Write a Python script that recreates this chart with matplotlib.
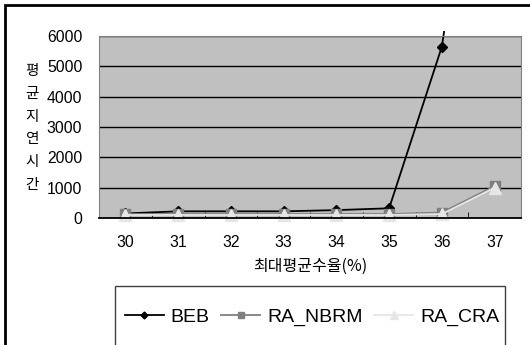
import matplotlib.pyplot as plt
from matplotlib.patches import Rectangle
from matplotlib.transforms import Bbox, TransformedBbox

# 데이터
rates = [30, 31, 32, 33, 34, 35, 36, 37]
beb = [150, 220, 220, 220, 260, 320, 5650, 17500]
ra_nbrm = [130, 130, 130, 130, 130, 130, 180, 1050]
ra_cra = [100, 100, 100, 100, 100, 100, 130, 1000]
yticks = [0, 1000, 2000, 3000, 4000, 5000, 6000]
ylabel_chars = ['평', '균', '지', '연', '시', '간']

W, H = 530, 345
fig = plt.figure(figsize=(W / 100, H / 100), dpi=100)
latin = 'Liberation Sans'
kr = ['Noto Sans CJK KR', 'DejaVu Sans']

# 플롯 영역 (픽셀 기준)
x0, x1, y0, y1 = 99, 521, 36, 218
ax = fig.add_axes([x0 / W, 1 - y1 / H, (x1 - x0) / W, (y1 - y0) / H])
ax.set_facecolor('#c0c0c0')

x = list(range(len(rates)))
l1, = ax.plot(x, beb, color='black', lw=1.3, marker='D', ms=5, label='BEB', zorder=2)
l2, = ax.plot(x, ra_nbrm, color='#7f7f7f', lw=1.3, marker='s', ms=7, label='RA_NBRM',
              clip_on=False, zorder=3)
l3, = ax.plot(x, ra_cra, color='#e6e6e6', lw=1.3, marker='^', ms=9, label='RA_CRA',
              clip_on=False, zorder=4)
# BEB 선이 위로 조금 넘어가게
l1.set_clip_box(TransformedBbox(Bbox([[0, 0], [1, 1.03]]), ax.transAxes))

ax.set_xlim(-0.5, len(rates) - 0.5)
ax.set_ylim(0, 6000)
ax.set_yticks(yticks)
ax.set_yticklabels([str(v) for v in yticks], fontsize=11.3, family=latin)
ax.yaxis.grid(True, color='black', lw=1)
ax.set_axisbelow(True)
ax.tick_params(axis='y', length=0, pad=12)

ax.set_xticks(x)
ax.set_xticklabels([str(r) for r in rates], fontsize=11.3, family=latin)
ax.tick_params(axis='x', length=0, pad=12)
ax.set_xticks([i + 0.5 for i in x[:-1]], minor=True)
ax.tick_params(axis='x', which='minor', direction='in', length=4, color='black')

for s in ['top', 'right', 'left']:
    ax.spines[s].set_color('#808080')
ax.spines['bottom'].set_color('black')
ax.spines['bottom'].set_linewidth(1.3)
ax.spines['bottom'].set_zorder(5)

ax.set_xlabel('최대평균수율(%)', family=kr, fontsize=11.5, labelpad=6)
# 세로로 쌓인 y축 제목
for i, ch in enumerate(ylabel_chars):
    fig.text(32 / W, 1 - (71 + 22.8 * i) / H, ch, family=kr, fontsize=10.5,
             ha='center', va='center')

# 외곽선
fig.add_artist(Rectangle((5 / W, -0.1), 1.0, 1 - 5 / H + 0.1, transform=fig.transFigure,
                         fill=False, ec='black', lw=2))
# 범례 상자
fig.add_artist(Rectangle((115 / W, -0.1), (505 - 115) / W, 1 - 286 / H + 0.1,
                         transform=fig.transFigure, fill=False, ec='#404040', lw=1))
fig.legend(handles=[l1, l2, l3], loc='center', bbox_to_anchor=(312 / W, 1 - 317 / H),
           ncol=3, frameon=False, prop={'family': latin, 'size': 14},
           handlelength=2.0, handletextpad=0.35, columnspacing=0.6, markerscale=0.7)

fig.savefig('out.png', dpi=100)
